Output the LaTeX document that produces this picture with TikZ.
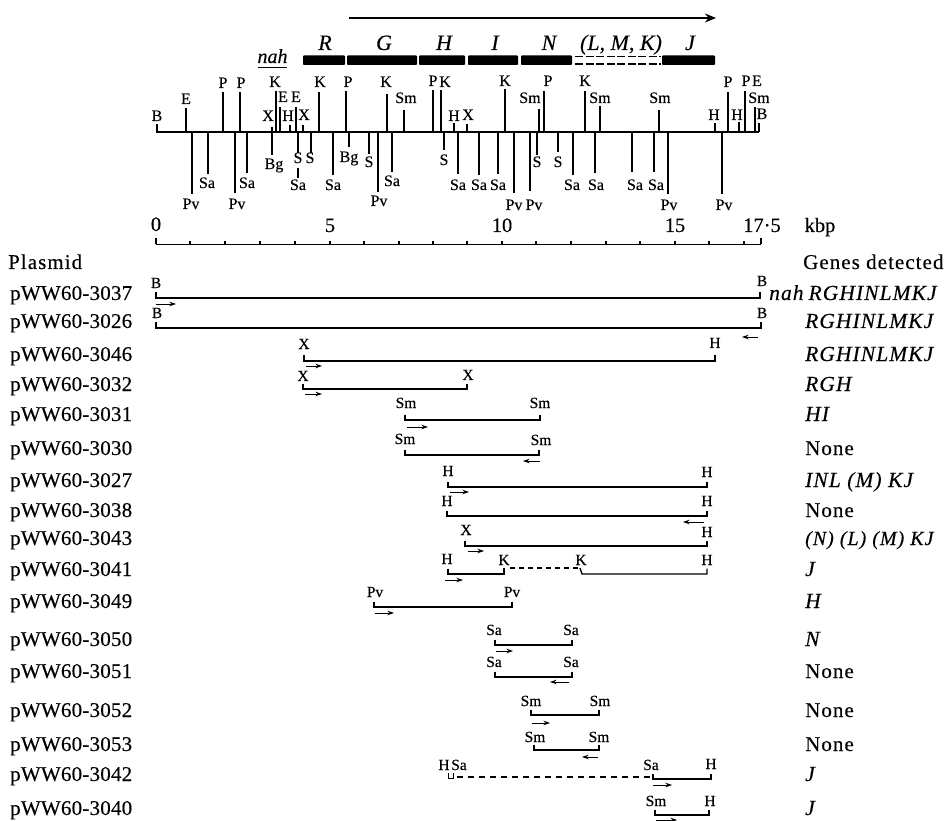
\documentclass[tikz,border=0pt]{standalone}
\usepackage{fontspec}
\setmainfont[FakeBold=0.25]{Liberation Serif}
\newfontfamily\rowfont[LetterSpace=5,FakeBold=0.25]{Liberation Serif}
\newfontfamily\plainrow[LetterSpace=1,FakeBold=0.25]{Liberation Serif}
\usetikzlibrary{arrows.meta}
\tikzset{
 site/.style={inner sep=0pt,anchor=base,font=\fontsize{16}{16}\selectfont},
 rowsite/.style={inner sep=0pt,anchor=base,font=\fontsize{15.5}{16}\selectfont},
 rowlab/.style={inner sep=0pt,anchor=base west,font=\fontsize{21}{21}\plainrow},
 headlab/.style={inner sep=0pt,anchor=base west,font=\fontsize{21}{21}\rowfont},
 genelab/.style={inner sep=0pt,anchor=base west,font=\fontsize{21.5}{21}\rowfont\itshape},
 scalelab/.style={inner sep=0pt,anchor=base,font=\fontsize{20.5}{20}\selectfont},
 genename/.style={inner sep=0pt,anchor=base,font=\fontsize{22}{22}\selectfont\itshape},
 genebar/.style={fill=black,draw=none,rounded corners=0.8pt},
 mapline/.style={line width=1.5pt},
 sitemark/.style={line width=1.2pt},
 frag/.style={line width=1.4pt},
 fragdash/.style={line width=1.1pt,dash pattern=on 5pt off 4pt},
 dirarrow/.style={line width=0.9pt,-{Stealth[length=6.5pt,width=4.5pt]}},
}
\begin{document}
\begin{tikzpicture}[x=1pt,y=-1pt]
\useasboundingbox (0,0) rectangle (946,821);
\fill[white] (0,0) rectangle (946,821);
% operon arrow
\coordinate (opa) at (349,18);
\coordinate (opb) at (716,18);
\draw[line width=2.2pt,-{Stealth[length=11pt,width=9pt]}] (opa) -- (opb);
% gene names
\foreach \n/\x/\t in {gR/325/R,gG/384/G,gH/444/H,gI/495/I,gN/549/N,gJ/690/J}
  \node[genename] (\n) at (\x,50) {\t};
\node[genename] (gLMK) at (621,50) {(L, M, K)};
% bars
\foreach \n/\xa/\xb in {bR/303/345,bG/347/417,bH/419/465,bI/468/518,bN/521/572,bJ/662/715}
  \fill[genebar] (\xa,55.5) rectangle (\xb,65);
\foreach \n/\y in {d1/56.5,d2/64}{
  \coordinate (\n a) at (575,\y);
  \coordinate (\n b) at (661,\y);
  \draw[line width=1.5pt,dash pattern=on 8pt off 2.5pt] (\n a) -- (\n b);
}
\node[genename,font=\fontsize{20}{20}\selectfont\itshape] (nahtop) at (272.5,63) {nah};
\coordinate (nahu) at (258,68);
\coordinate (nahv) at (287,68);
\draw[line width=1pt] (nahu) -- (nahv);
% map
\coordinate (mapl) at (156,132);
\coordinate (mapr) at (759,132);
\draw[mapline] (mapl) -- (mapr);
% upper marks: x / top / label x / label y / label
\foreach \x/\ytop/\lx/\ly/\lab in {
 157/124/157/116/B,186/108/186/99/E,223/92/223/83/P,240/92/241/83/P,
 276/91/275/82/K,280/107/283/97/E,272/127/268/116/X,290/125/288/116/H,
 296/107/296/97/E,303/125/304/115/X,319/92/320/82/K,346/91/348/82/P,
 387/94/386/82/K,404/110/406/98/Sm,433/90/433/81/P,441/90/445/82/K,
 454/123/454/116/H,467/124/468/115/X,505/89/505/81/K,539/109/530/98/Sm,
 544/91/548/81/P,585/91/585/81/K,600/106/600/98/Sm,659/110/660/98/Sm,
 715/123/714/115/H,728/92/728/82/P,739/122/737/115/H,745/91/746/81/P,
 755/107/759/98/Sm,759/123/762/114/B}{
  \coordinate (tb\x) at (\x,132);
  \coordinate (tt\x) at (\x,\ytop);
  \draw[sitemark] (tb\x) -- (tt\x);
  \node[site] (tl\x) at (\lx,\ly+5) {\lab};
}
\node[site] (tlE) at (757,86) {E};
% lower marks
\foreach \x/\ybot/\lx/\ly/\lab in {
 192/194/191/204/Pv,208/174/207/183/Sa,235/193/237/204/Pv,247/173/247/183/Sa,
 272/155/274/164/Bg,298/153/298/158/S,311/153/310/158/S,333/175/333/185/Sa,
 349/147/349/157/Bg,369/154/369/162/S,378/192/379/201/Pv,392/172/392/181/Sa,
 444/150/444/160/S,458/174/458/185/Sa,479/175/479/185/Sa,498/174/498/185/Sa,
 514/193/514/205/Pv,530/191/534/205/Pv,537/155/537/162/S,558/152/558/162/S,
 573/175/572/185/Sa,595/173/596/185/Sa,632/172/635/185/Sa,654/172/656/185/Sa,
 668/194/669/205/Pv,722/194/724/205/Pv}{
  \coordinate (ba\x) at (\x,132);
  \coordinate (bb\x) at (\x,\ybot);
  \draw[sitemark] (ba\x) -- (bb\x);
  \node[site] (bl\x) at (\lx,\ly+5) {\lab};
}
\coordinate (sa298a) at (298,168);
\coordinate (sa298b) at (298,178);
\draw[sitemark] (sa298a) -- (sa298b);
\node[site] (sa298) at (298,190) {Sa};
% scale
\coordinate (sl) at (156,244.5);
\coordinate (sr) at (761,244.5);
\draw[line width=1.3pt] (sl) -- (sr);
\foreach \x in {190,225,260,295,330,364,399,433,467,502,536,571,606,640,675,709,744}{
  \coordinate (sc\x) at (\x,244.5);
  \coordinate (st\x) at (\x,241);
  \draw[line width=1.1pt] (sc\x) -- (st\x);
}
\coordinate (e0a) at (156,244.5); \coordinate (e0b) at (156,238.5);
\draw[line width=1.1pt] (e0a) -- (e0b);
\coordinate (e1a) at (761,244.5); \coordinate (e1b) at (761,238.5);
\draw[line width=1.1pt] (e1a) -- (e1b);
\foreach \n/\x/\y/\t in {s0/156/231/0,s5/330/232/5,s10/502/232/10,s15/675/232/15,s17/762/232/17·5,skbp/820/232/kbp}
  \node[scalelab] (\n) at (\x,\y) {\t};
% headers
\node[headlab] (plasmid) at (8,269) {Plasmid};
\node[headlab] (genes) at (803,269) {Genes detected};
% row labels and genes
\foreach \n/\y in {3037/300,3026/328,3046/361,3032/391,3031/421,3030/455,3027/487,3038/517,3043/545,3041/576,3049/608,3050/646,3051/678,3052/717,3053/751,3042/781,3040/815}
  \node[rowlab] (r\n) at (10,\y) {pWW60-\n};
\node[genelab] (g3037) at (769,300) {nah\hspace{5pt}RGHINLMKJ};
\foreach \n/\y/\t in {3026/328/RGHINLMKJ,3046/361/RGHINLMKJ,3032/391/RGH,3031/421/HI,3027/487/INL (M) KJ,3041/576/J,3049/608/H,3050/646/N,3042/781/J,3040/815/J}
  \node[genelab] (g\n) at (805,\y) {\t};
\node[genelab,font=\fontsize{20}{20}\rowfont\itshape] (g3043) at (805,545) {(N) (L) (M) KJ};
\foreach \n/\y in {3030/455,3038/517,3051/678,3052/717,3053/751}
  \node[headlab] (g\n) at (805,\y) {None};
% fragments
\foreach \n/\xa/\xb/\y/\la/\lx/\ly/\ra/\rx/\ry in {
 f37/156/760/298/B/156/283/B/762/281,
 f26/156/761/328/B/157/313/B/762/313,
 f46/304/715/361/X/304/344/H/715/343,
 f32/303/467/389/X/303/376/X/468/375,
 f31/405/540/420/Sm/406/403/Sm/540/403,
 f30/405/539/455/Sm/405/439/Sm/541/440,
 f27/448/707/487/H/448/471/H/707/472,
 f38/447/707/516/H/447/501/H/707/501,
 f43/465/707/546/X/466/530/H/707/532,
 f49/374/512/607/Pv/375/592/Pv/512/592,
 f50/495/572/645/Sa/494/630/Sa/571/630,
 f51/495/572/677/Sa/494/662/Sa/571/662,
 f52/531/599/715/Sm/531/701/Sm/600/701,
 f53/534/599/750/Sm/535/737/Sm/599/737,
 f40/655/709/815/Sm/656/801/H/710/801}{
  \coordinate (\n a) at (\xa,\y-5.5);
  \coordinate (\n b) at (\xa,\y);
  \coordinate (\n c) at (\xb,\y);
  \coordinate (\n d) at (\xb,\y-5.5);
  \draw[frag] (\n a) -- (\n b) -- (\n c) -- (\n d);
  \node[rowsite] (\n l) at (\lx,\ly+5) {\la};
  \node[rowsite] (\n r) at (\rx,\ry+5) {\ra};
}
% direction arrows
\foreach \n/\xa/\xb/\y in {
 a37/156/176/304,a26/758/742/337,a46/306/322/366,a32/305/322/394,a31/407/428/427,
 a30/540/523/461,a27/450/469/492,a38/704/683/522,a43/468/484/551,a41/445/463/580,
 a49/375/394/613,a50/496/513/651,a51/569/550/682,a52/532/550/723,a53/598/582/757,
 a42/653/672/785,a40/656/677/820}{
  \coordinate (\n s) at (\xa,\y);
  \coordinate (\n e) at (\xb,\y);
  \draw[dirarrow] (\n s) -- (\n e);
}
% pWW60-3041
\coordinate (k1) at (448,568.5); \coordinate (k2) at (448,574);
\coordinate (k3) at (504,574);   \coordinate (k4) at (504,568);
\draw[frag] (k1) -- (k2) -- (k3) -- (k4);
\coordinate (k5) at (580,568); \coordinate (k6) at (582,574);
\coordinate (k7) at (707,574); \coordinate (k8) at (707,568.5);
\draw[frag] (k5) -- (k6) -- (k7) -- (k8);
\coordinate (k9) at (510,568);
\draw[fragdash] (k9) -- (k5);
\node[rowsite] (k1l) at (447,564) {H};
\node[rowsite] (k2l) at (504,565) {K};
\node[rowsite] (k3l) at (581,565) {K};
\node[rowsite] (k4l) at (707,565) {H};
% pWW60-3042
\coordinate (u1) at (448,773); \coordinate (u2) at (448,778);
\coordinate (u3) at (453,778); \coordinate (u4) at (453,773);
\draw[line width=1pt] (u1) -- (u2) -- (u3) -- (u4);
\coordinate (u5) at (457,777); \coordinate (u6) at (652,777);
\draw[line width=1.3pt,dash pattern=on 6pt off 5pt] (u5) -- (u6);
\coordinate (u7) at (653,774); \coordinate (u8) at (653,779);
\coordinate (u9) at (711,779); \coordinate (u10) at (711,773.5);
\draw[frag] (u7) -- (u8) -- (u9) -- (u10);
\node[rowsite] (u1l) at (444,770) {H};
\node[rowsite] (u2l) at (459,770) {Sa};
\node[rowsite] (u3l) at (651,770) {Sa};
\node[rowsite] (u4l) at (711,769) {H};
\end{tikzpicture}
\end{document}
